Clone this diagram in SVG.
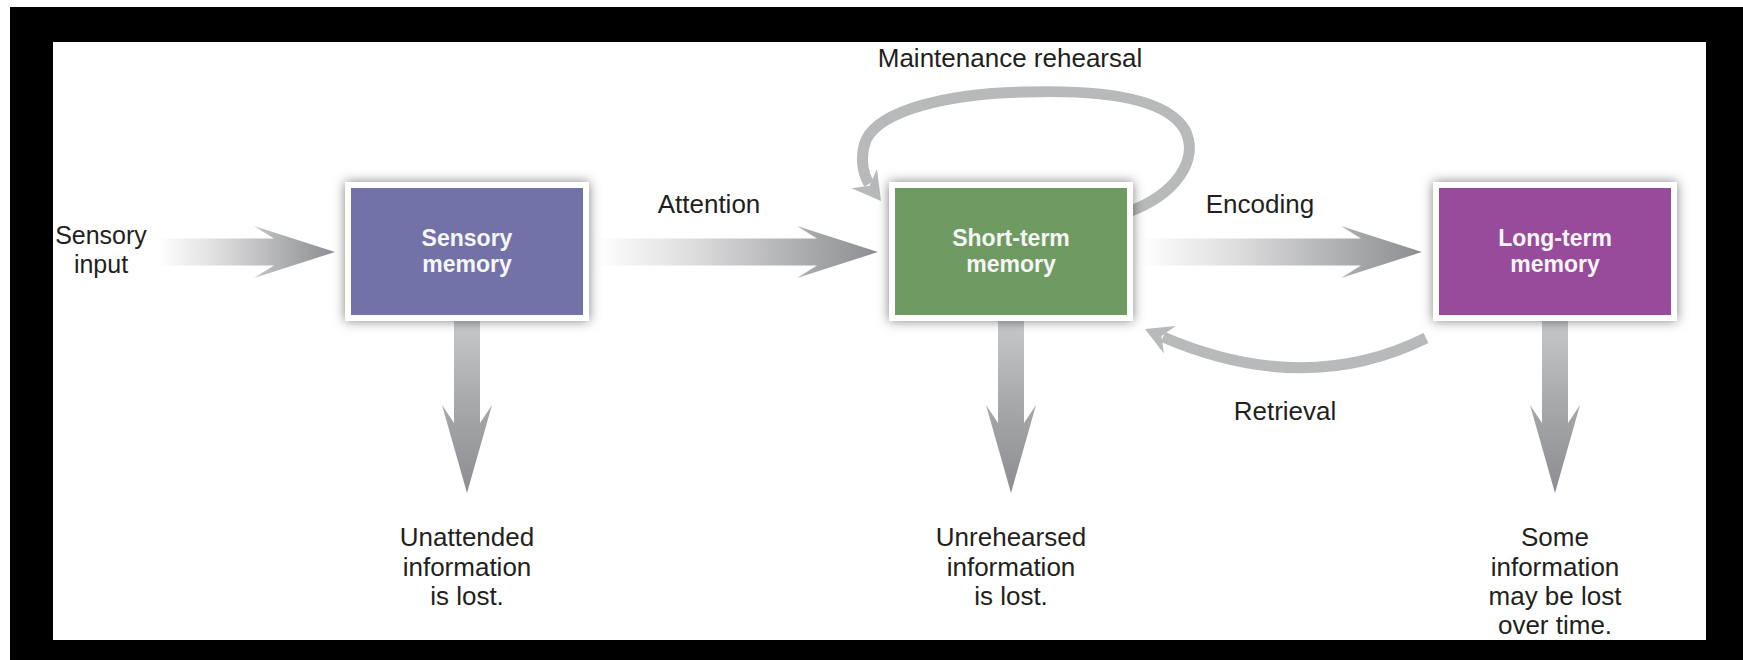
<svg xmlns="http://www.w3.org/2000/svg" xmlns:xlink="http://www.w3.org/1999/xlink" width="1743" height="660" viewBox="0 0 1743 660">
<defs>
<style>
.lbl{font-family:"Liberation Sans","Open Sans",sans-serif;font-size:26px;fill:#231f20;text-anchor:middle}
.box-t{font-family:"Liberation Sans","Open Sans",sans-serif;font-size:23px;font-weight:bold;fill:#f6f6f6;text-anchor:middle}
.frame{fill:#ffffff;filter:url(#sh)}
.curve{fill:none;stroke:#b8b9bb;stroke-width:11}
.curve-head{fill:#b8b9bb}
.down{fill:url(#vg)}
</style>
<filter id="sh" x="-20%" y="-20%" width="140%" height="140%">
<feDropShadow dx="0" dy="0" stdDeviation="6" flood-color="#000" flood-opacity="0.5"/>
</filter>
<linearGradient id="hg">
<stop offset="0" stop-color="#ffffff"/>
<stop offset="0.35" stop-color="#dcdcdd"/>
<stop offset="0.75" stop-color="#a9aaac"/>
<stop offset="1" stop-color="#8d8e91"/>
</linearGradient>
<linearGradient id="hg1" xlink:href="#hg" gradientUnits="userSpaceOnUse" x1="158" y1="0" x2="335" y2="0"/>
<linearGradient id="hg2" xlink:href="#hg" gradientUnits="userSpaceOnUse" x1="596" y1="0" x2="878" y2="0"/>
<linearGradient id="hg3" xlink:href="#hg" gradientUnits="userSpaceOnUse" x1="1140" y1="0" x2="1422" y2="0"/>
<linearGradient id="vg" x1="0" y1="0" x2="0" y2="1">
<stop offset="0" stop-color="#c9cacc"/>
<stop offset="0.5" stop-color="#a7a8aa"/>
<stop offset="1" stop-color="#8c8d90"/>
</linearGradient>
</defs>

<rect x="0" y="0" width="1743" height="660" fill="#ffffff"/>
<rect x="10" y="7" width="1733" height="653" fill="#000000"/>
<rect x="53" y="42" width="1653" height="598" fill="#ffffff"/>

<g id="connectors">
<polygon id="arrow-input" fill="url(#hg1)" points="158,238.5 274,238.5 254,226 335,252 254,278 274,265.5 158,265.5"/>
<polygon id="arrow-attention" fill="url(#hg2)" points="596,238.5 817,238.5 797,226 878,252 797,278 817,265.5 596,265.5"/>
<polygon id="arrow-encoding" fill="url(#hg3)" points="1140,238.5 1361,238.5 1341,226 1422,252 1341,278 1361,265.5 1140,265.5"/>
<polygon class="down" points="454,316 480,316 480,423 492,405 467,493 442,405 454,423"/>
<polygon class="down" points="998,316 1024,316 1024,423 1036,405 1011,493 986,405 998,423"/>
<polygon class="down" points="1542,316 1568,316 1568,423 1580,405 1555,493 1530,405 1542,423"/>
<g id="maintenance-loop">
<path class="curve" d="M1128 212 C1175 195 1200 160 1185 130 C1165 95 1090 90 1025 92 C950 93 880 110 866 140 C860 155 862 172 869 184"/>
<polygon class="curve-head" points="881,201 877,169 869.6,185.8 851.4,188.2"/>
</g>
<g id="retrieval">
<path class="curve" d="M1426 338 Q1305 398 1163 337"/>
<polygon class="curve-head" points="1145,329 1175.7,325.9 1161.5,336.1 1163.9,353.5"/>
</g>
</g>

<g id="sensory-memory">
<rect class="frame" x="345" y="182" width="244" height="139"/>
<rect x="351" y="188" width="232" height="127" fill="#7272a9"/>
<text class="box-t" x="467" y="246">Sensory<tspan x="467" dy="26">memory</tspan></text>
</g>
<g id="short-term-memory">
<rect class="frame" x="889" y="182" width="244" height="139"/>
<rect x="895" y="188" width="232" height="127" fill="#6f9b62"/>
<text class="box-t" x="1011" y="246">Short-term<tspan x="1011" dy="26">memory</tspan></text>
</g>
<g id="long-term-memory">
<rect class="frame" x="1433" y="182" width="244" height="139"/>
<rect x="1439" y="188" width="232" height="127" fill="#984b9b"/>
<text class="box-t" x="1555" y="246">Long-term<tspan x="1555" dy="26">memory</tspan></text>
</g>

<g id="labels">
<text class="lbl" x="101" y="244" style="font-size:25px">Sensory<tspan x="101" dy="28.5">input</tspan></text>
<text class="lbl" x="709" y="213">Attention</text>
<text class="lbl" x="1260" y="213">Encoding</text>
<text class="lbl" x="1010" y="67">Maintenance rehearsal</text>
<text class="lbl" x="1285" y="420">Retrieval</text>
<text class="lbl" x="467" y="546">Unattended<tspan x="467" dy="29.5">information</tspan><tspan x="467" dy="29.5">is lost.</tspan></text>
<text class="lbl" x="1011" y="546">Unrehearsed<tspan x="1011" dy="29.5">information</tspan><tspan x="1011" dy="29.5">is lost.</tspan></text>
<text class="lbl" x="1555" y="546">Some<tspan x="1555" dy="29.5">information</tspan><tspan x="1555" dy="29.5">may be lost</tspan><tspan x="1555" dy="29">over time.</tspan></text>
</g>
</svg>
